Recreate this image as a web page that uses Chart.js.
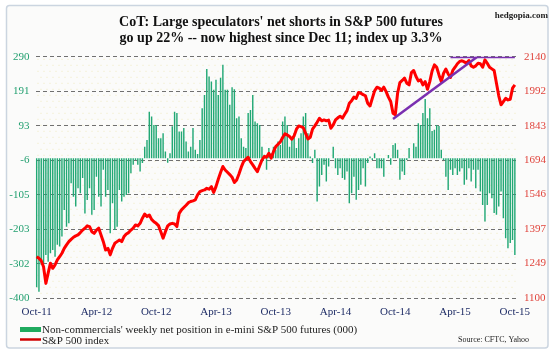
<!DOCTYPE html>
<html><head><meta charset="utf-8">
<script src="https://cdn.jsdelivr.net/npm/chart.js@4.4.0/dist/chart.umd.min.js"></script>
<style>html,body{margin:0;padding:0;background:#fff}canvas{display:block}</style>
</head><body>
<canvas id="c" width="556" height="357"></canvas>
<script>
// ---- data ----
const tickLabels = ['Oct-11','Apr-12','Oct-12','Apr-13','Oct-13','Apr-14','Oct-14','Apr-15','Oct-15'];
const leftTicks = [290,191,93,-6,-105,-203,-302,-400];
const rightTicks = [2140,1992,1843,1694,1546,1397,1249,1100];

const netPositions = [
-369,-382,-305,-301,-277,-296,-272,-263,-282,-248,
-253,-224,-148,-196,-186,-72,-110,-138,-86,-100,
-57,-158,-120,-86,-162,-148,-53,-110,-138,-33,
-110,-91,-215,-129,-205,-196,-91,-124,-110,-105,
-100,-43,-19,-5,-19,-38,-14,33,52,133,
119,95,
95,57,57,71,19,-13,14,91,133,129,
76,76,86,48,19,33,86,24,12,52,
143,181,255,234,219,196,224,181,230,267,
196,196,153,203,197,114,119,57,33,29,
129,138,181,105,100,95,33,10,-33,29,
14,33,
24,48,38,105,119,95,33,57,71,29,
57,71,119,129,71,5,-14,24,-124,-81,
-48,-19,-67,-24,0,33,-29,-48,-29,-57,
-62,-38,-129,-100,-53,-119,-91,-76,-29,-81,
-14,5,-5,14,-29,-29,-29,-53,0,9,
-19,
38,43,24,-62,-38,-48,-5,29,0,43,
33,100,95,129,169,114,143,78,81,95,
92,24,-5,-53,-91,-33,-48,-29,-48,-38,
-29,-76,-62,-29,-67,-33,-86,-33,-95,-134,
-181,-134,-100,-115,-157,-162,-138,-95,-172,-229,
-258,-243,-234,-277
];

const spxIndex = [
1278,1271,1261,1235,1163,1207,1250,1228,1243,1264,
1278,1293,1314,1329,1343,1353,1362,1368,1372,1382,
1393,1401,1411,1408,1386,1379,1393,1401,1372,1343,
1307,1314,1286,1314,1336,1343,1350,1343,1365,1376,
1382,1393,1401,1415,1411,1422,1444,1462,1451,1458,
1439,
1429,1422,1412,1386,1358,1386,1411,1419,1422,1419,
1408,1465,1480,1490,1500,1511,1516,1519,1523,1545,
1559,1563,1566,1573,1569,1580,1555,1580,1612,1641,
1667,1652,1642,1632,1621,1598,1609,1635,1664,1688,
1698,1707,1688,1674,1659,1645,1670,1695,1710,1707,
1724,
1703,1731,1753,1763,1773,1792,1808,1803,1796,1785,
1799,1828,1842,1839,1834,1810,1786,1793,1828,1842,
1858,1875,1864,1868,1864,1867,1832,1846,1868,1877,
1884,1875,1892,1908,1940,1951,1966,1961,1986,1983,
1977,1972,1940,1928,1961,1993,2009,2005,1995,2009,
1990,1966,
1947,1897,1890,1983,2029,2038,2048,2026,2019,2072,
2081,2055,2036,2041,2019,2033,2000,2033,2079,2105,
2095,2062,2033,2069,2087,2066,2051,2081,2095,2110,
2120,2123,2118,2112,2124,2101,2095,2101,2112,2110,
2095,2127,2112,2095,2088,2081,2026,1972,1933,1947,
1961,1954,1957,2005,2019
];

// purple trend lines (week index, index level)
const trendX = [155,193], trendY = [1872,2150];
const capX = [180,208], capY = [2139,2139];

// weekly categories
const categories = [];
{ const d0 = new Date(Date.UTC(2011,9,4));
  for (let i = 0; i < spxIndex.length; i++) {
    const d = new Date(d0.getTime() + i*7*86400000);
    categories.push(d.toISOString().slice(0,10));
  } }

const SERIF = "'Liberation Serif','Times New Roman',serif";

const decor = {
  id: 'decor',
  beforeDraw(chart) {
    const ctx = chart.ctx, a = chart.chartArea;
    ctx.save();
    ctx.fillStyle = '#fff';
    ctx.fillRect(0,0,chart.width,chart.height);
    ctx.beginPath();
    ctx.roundRect(6.5,5.5,541.5,342.5,3);
    ctx.fillStyle = '#fbfbfa';
    ctx.fill();
    ctx.strokeStyle = '#cbd5e0';
    ctx.lineWidth = 1.5;
    ctx.stroke();
    ctx.fillStyle = '#f1ebbd';
    let row = 0;
    for (let y = a.top + 2; y < a.bottom; y += 6, row++) {
      for (let x = a.left + 2 + (row % 2) * 3; x < a.right; x += 6) {
        ctx.fillRect(x, y, 1, 1);
      }
    }
    ctx.restore();
  },
  afterDraw(chart) {
    const ctx = chart.ctx;
    ctx.save();
    ctx.fillStyle = '#222';
    ctx.font = "bold 9px " + SERIF;
    ctx.textAlign = 'right';
    ctx.textBaseline = 'alphabetic';
    ctx.fillText('hedgopia.com', 548, 18);
    // legend
    ctx.fillStyle = '#1faa5e';
    ctx.fillRect(20, 327, 21, 5);
    ctx.strokeStyle = '#d00000';
    ctx.lineWidth = 2.5;
    ctx.beginPath(); ctx.moveTo(20, 339.5); ctx.lineTo(41, 339.5); ctx.stroke();
    ctx.fillStyle = '#222';
    ctx.textAlign = 'left';
    ctx.font = "11px " + SERIF;
    ctx.fillText("Non-commercials' weekly net position in e-mini S&P 500 futures (000)", 42, 333);
    ctx.fillText("S&P 500 index", 42, 344);
    ctx.font = "8px " + SERIF;
    ctx.textAlign = 'right';
    ctx.fillText("Source: CFTC, Yahoo", 529, 342);
    ctx.restore();
  }
};

new Chart(document.getElementById('c'), {
  data: {
    labels: categories,
    datasets: [
      { type: 'line', label: 'cap', data: capX.map((x,i)=>({x: categories[x], y: capY[i]})), yAxisID: 'yR',
        borderColor: '#7a2fb0', borderWidth: 2.5, pointRadius: 0, order: 1 },
      { type: 'line', label: 'trend', data: trendX.map((x,i)=>({x: categories[x], y: trendY[i]})), yAxisID: 'yR',
        borderColor: '#7a2fb0', borderWidth: 2.5, pointRadius: 0, order: 1 },
      { type: 'line', label: 'S&P 500 index', data: spxIndex, yAxisID: 'yR',
        borderColor: '#ff0000', borderWidth: 3, pointRadius: 0, tension: 0,
        borderJoinStyle: 'round', order: 2 },
      { type: 'bar', label: "Non-commercials' weekly net position in e-mini S&P 500 futures (000)",
        data: netPositions, yAxisID: 'yL', backgroundColor: '#22a875',
        barPercentage: 0.62, categoryPercentage: 1, order: 3 }
    ]
  },
  options: {
    responsive: false,
    animation: false,
    devicePixelRatio: 1,
    layout: { padding: { left: 6, right: 0, top: 0, bottom: 0 } },
    plugins: {
      legend: { display: false },
      tooltip: { enabled: false },
      title: {
        display: true,
        text: ["CoT: Large speculators' net shorts in S&P 500 futures",
               "go up 22% -- now highest since Dec 11; index up 3.3%"],
        color: '#111',
        font: { family: SERIF, size: 14, weight: 'bold', lineHeight: 1.1 },
        padding: { top: 15, bottom: 11 }
      }
    },
    scales: {
      x: {
        type: 'category',
        offset: true,
        grid: { display: false },
        border: { display: false },
        ticks: {
          autoSkip: false, maxRotation: 0, minRotation: 0, padding: 0,
          color: '#1f2d66', font: { family: SERIF, size: 11 },
          callback: (v) => (v % 26 === 0 ? tickLabels[v / 26] : null)
        },
        afterFit: (s) => { s.height = 59; }
      },
      yL: {
        position: 'left', min: -400, max: 290,
        afterBuildTicks: (s) => { s.ticks = leftTicks.map(v => ({ value: v })); },
        afterFit: (s) => { s.width = 29.5; },
        grid: { color: '#707070', lineWidth: 1, drawTicks: false },
        border: { display: false, dash: [4, 3] },
        ticks: { color: '#23a070', padding: 6, font: { family: SERIF, size: 11 },
                 callback: (v) => String(v) }
      },
      yR: {
        position: 'right', min: 1100, max: 2140,
        afterBuildTicks: (s) => { s.ticks = rightTicks.map(v => ({ value: v })); },
        afterFit: (s) => { s.width = 40; },
        grid: { display: false, drawTicks: false },
        border: { display: false },
        ticks: { color: '#e0443c', padding: 8, font: { family: SERIF, size: 11 },
                 callback: (v) => String(v) }
      }
    }
  },
  plugins: [decor]
});
</script>
</body></html>
